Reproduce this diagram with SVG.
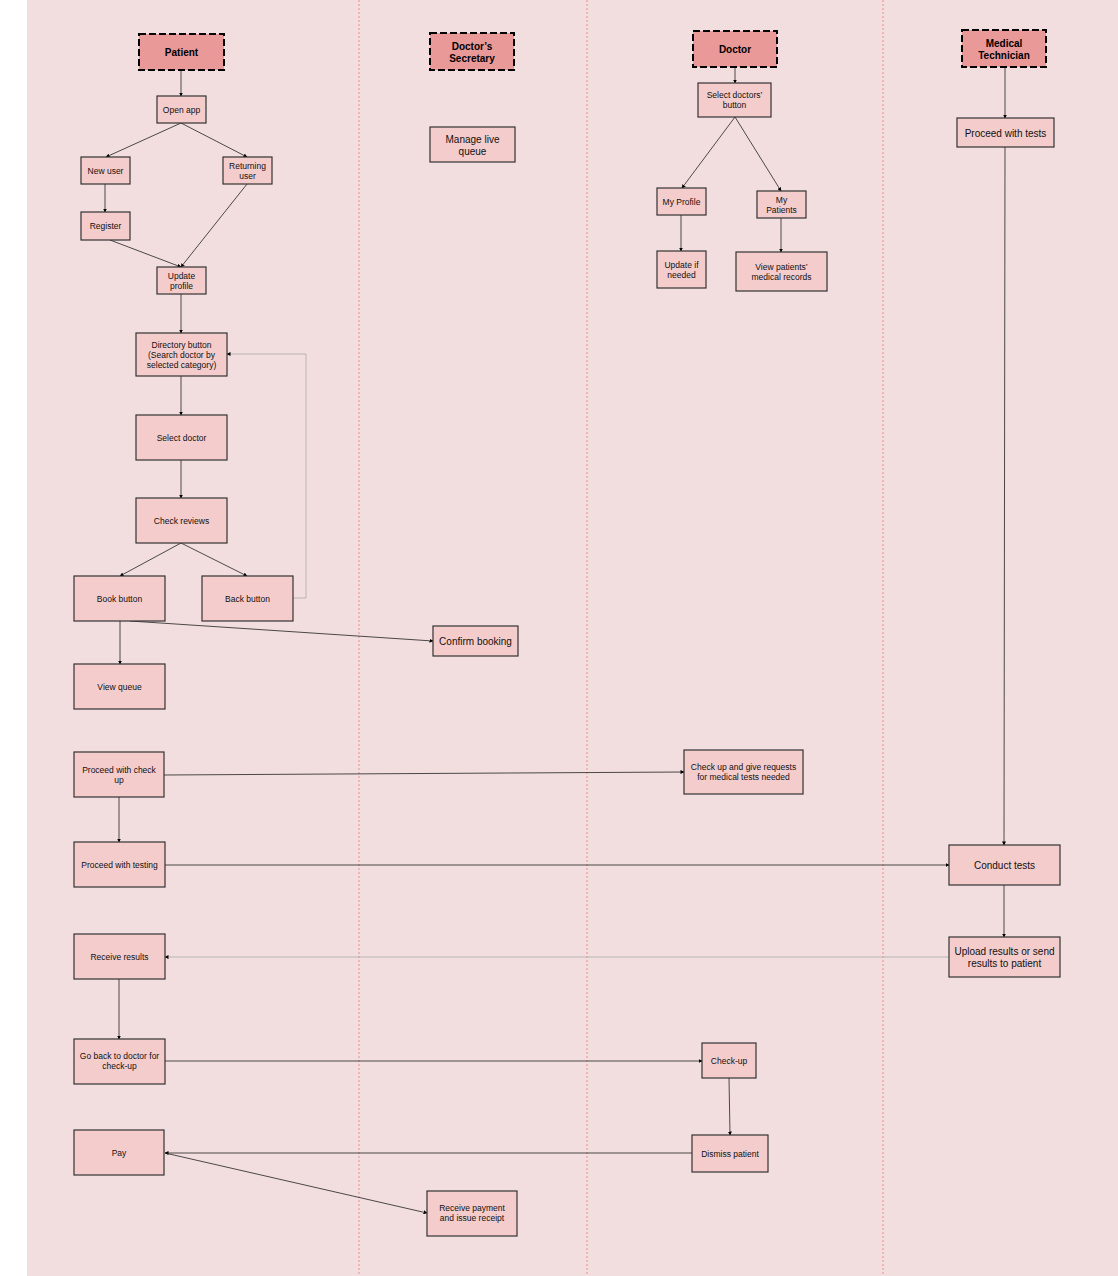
<svg xmlns="http://www.w3.org/2000/svg" width="1118" height="1276" viewBox="0 0 1118 1276">
<defs>
<marker id="ah" markerWidth="4" markerHeight="4" refX="3.5" refY="2" orient="auto" markerUnits="userSpaceOnUse">
<path d="M0,0 L4,2 L0,4 Z" fill="#000"/>
</marker>
<style>
.hdr rect{fill:#ea9999;stroke:#000;stroke-width:2;stroke-dasharray:7 3}
.hdr text{font-family:"Liberation Sans",Arial,sans-serif;font-weight:bold;font-size:10px;fill:#000;text-anchor:middle}
.nd rect{fill:#f4cccc;stroke:#333;stroke-width:1.2}
.nd text{font-family:"Liberation Sans",Arial,sans-serif;font-size:8.5px;fill:#111;text-anchor:middle}
.nd text.l{font-size:10px}
.lane{stroke:#ec8f86;stroke-width:1;stroke-dasharray:2 2;fill:none}
#connectors path{fill:none;stroke:#222;stroke-width:0.8;marker-end:url(#ah)}
#connectors path.lt{stroke:#aaa}
</style>
</defs>
<rect x="0" y="0" width="1118" height="1276" fill="#fff"/>
<rect x="27" y="0" width="1091" height="1276" fill="#f2dede"/>
<g id="lanes">
<line class="lane" x1="359" y1="0" x2="359" y2="1276"/>
<line class="lane" x1="587" y1="0" x2="587" y2="1276"/>
<line class="lane" x1="883" y1="0" x2="883" y2="1276"/>
</g>
<g id="connectors">
<path d="M181,70 L181,96"/>
<path d="M181,123 L106,157"/>
<path d="M181,123 L247,157"/>
<path d="M105,184 L105,212"/>
<path d="M110,240 L181,267"/>
<path d="M247,184 L181,267"/>
<path d="M181,294 L181,333"/>
<path d="M181,376 L181,415"/>
<path d="M181,460 L181,498"/>
<path d="M181,543 L120,576"/>
<path d="M181,543 L247,576"/>
<path class="lt" d="M293,598 L306,598 L306,354 L227,354"/>
<path d="M120,621 L120,664"/>
<path d="M130,621 L433,641"/>
<path d="M164,775 L684,772"/>
<path d="M119,797 L119,842"/>
<path d="M165,865 L949,865"/>
<path class="lt" d="M949,957 L165,957"/>
<path d="M119,979 L119,1039"/>
<path d="M165,1061 L702,1061"/>
<path d="M729,1078 L730,1135"/>
<path d="M692,1153 L165,1153"/>
<path d="M165,1153 L427,1213"/>
<path d="M735,67 L735,83"/>
<path d="M735,117 L682,188"/>
<path d="M735,117 L781,191"/>
<path d="M681,215 L681,251"/>
<path d="M781,218 L781,252"/>
<path d="M1005,67 L1005,118"/>
<path d="M1005,147 L1004,845"/>
<path d="M1004,885 L1004,937"/>
</g>
<g id="hdr-patient" class="hdr"><rect x="139" y="34" width="85" height="36"/><text x="181.5" y="55.5">Patient</text></g>
<g id="hdr-secretary" class="hdr"><rect x="430" y="33" width="84" height="37"/><text x="472" y="50">Doctor’s</text><text x="472" y="62">Secretary</text></g>
<g id="hdr-doctor" class="hdr"><rect x="693" y="31" width="84" height="36"/><text x="735" y="52.5">Doctor</text></g>
<g id="hdr-medtech" class="hdr"><rect x="962" y="30" width="84" height="37"/><text x="1004" y="47">Medical</text><text x="1004" y="58.5">Technician</text></g>

<g id="n-openapp" class="nd"><rect x="157" y="96" width="49" height="27"/><text x="181.5" y="113">Open app</text></g>
<g id="n-newuser" class="nd"><rect x="81" y="157" width="49" height="27"/><text x="105.5" y="174">New user</text></g>
<g id="n-returning" class="nd"><rect x="223" y="157" width="49" height="27"/><text x="247.5" y="169">Returning</text><text x="247.5" y="179">user</text></g>
<g id="n-register" class="nd"><rect x="81" y="212" width="49" height="28"/><text x="105.5" y="229">Register</text></g>
<g id="n-update" class="nd"><rect x="157" y="267" width="49" height="27"/><text x="181.5" y="278.5">Update</text><text x="181.5" y="288.5">profile</text></g>
<g id="n-directory" class="nd"><rect x="136" y="333" width="91" height="43"/><text x="181.5" y="347.5">Directory button</text><text x="181.5" y="357.5">(Search doctor by</text><text x="181.5" y="367.5">selected category)</text></g>
<g id="n-selectdoc" class="nd"><rect x="136" y="415" width="91" height="45"/><text x="181.5" y="441">Select doctor</text></g>
<g id="n-reviews" class="nd"><rect x="136" y="498" width="91" height="45"/><text x="181.5" y="524">Check reviews</text></g>
<g id="n-book" class="nd"><rect x="74" y="576" width="91" height="45"/><text x="119.5" y="602">Book button</text></g>
<g id="n-back" class="nd"><rect x="202" y="576" width="91" height="45"/><text x="247.5" y="602">Back button</text></g>
<g id="n-viewqueue" class="nd"><rect x="74" y="664" width="91" height="45"/><text x="119.5" y="690">View queue</text></g>
<g id="n-checkup-p" class="nd"><rect x="74" y="752" width="90" height="45"/><text x="119" y="773">Proceed with check</text><text x="119" y="783">up</text></g>
<g id="n-testing" class="nd"><rect x="74" y="842" width="91" height="45"/><text x="119.5" y="868">Proceed with testing</text></g>
<g id="n-results" class="nd"><rect x="74" y="934" width="91" height="45"/><text x="119.5" y="960">Receive results</text></g>
<g id="n-goback" class="nd"><rect x="74" y="1039" width="91" height="45"/><text x="119.5" y="1059">Go back to doctor for</text><text x="119.5" y="1069">check-up</text></g>
<g id="n-pay" class="nd"><rect x="74" y="1130" width="90" height="45"/><text x="119" y="1156">Pay</text></g>

<g id="n-managequeue" class="nd"><rect x="430" y="127" width="85" height="35"/><text class="l" x="472.5" y="143">Manage live</text><text class="l" x="472.5" y="154.5">queue</text></g>
<g id="n-confirm" class="nd"><rect x="433" y="626" width="85" height="30"/><text class="l" x="475.5" y="645">Confirm booking</text></g>
<g id="n-receipt" class="nd"><rect x="427" y="1191" width="90" height="45"/><text x="472" y="1211">Receive payment</text><text x="472" y="1221">and issue receipt</text></g>

<g id="n-selectbtn" class="nd"><rect x="698" y="83" width="73" height="34"/><text x="734.5" y="98">Select doctors’</text><text x="734.5" y="108">button</text></g>
<g id="n-myprofile" class="nd"><rect x="657" y="188" width="49" height="27"/><text x="681.5" y="205">My Profile</text></g>
<g id="n-mypatients" class="nd"><rect x="757" y="191" width="49" height="27"/><text x="781.5" y="203">My</text><text x="781.5" y="213">Patients</text></g>
<g id="n-updateif" class="nd"><rect x="657" y="251" width="49" height="37"/><text x="681.5" y="268">Update if</text><text x="681.5" y="278">needed</text></g>
<g id="n-records" class="nd"><rect x="736" y="252" width="91" height="39"/><text x="781.5" y="270">View patients’</text><text x="781.5" y="280">medical records</text></g>
<g id="n-checkup-d" class="nd"><rect x="684" y="750" width="119" height="44"/><text x="743.5" y="770">Check up and give requests</text><text x="743.5" y="780">for medical tests needed</text></g>
<g id="n-checkup2" class="nd"><rect x="702" y="1043" width="54" height="35"/><text x="729" y="1064">Check-up</text></g>
<g id="n-dismiss" class="nd"><rect x="692" y="1135" width="76" height="37"/><text x="730" y="1157">Dismiss patient</text></g>

<g id="n-proceedtests" class="nd"><rect x="957" y="118" width="97" height="29"/><text class="l" x="1005.5" y="136.5">Proceed with tests</text></g>
<g id="n-conduct" class="nd"><rect x="949" y="845" width="111" height="40"/><text class="l" x="1004.5" y="868.5">Conduct tests</text></g>
<g id="n-upload" class="nd"><rect x="949" y="937" width="111" height="40"/><text class="l" x="1004.5" y="954.5">Upload results or send</text><text class="l" x="1004.5" y="966.5">results to patient</text></g>
</svg>
